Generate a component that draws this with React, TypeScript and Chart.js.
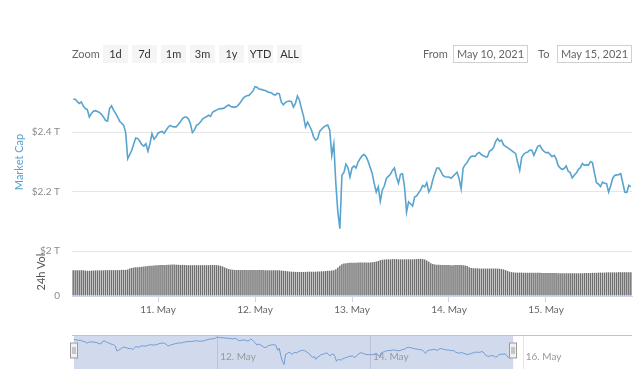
import React, { useEffect, useRef } from "react";
import { Chart, registerables } from "chart.js";
Chart.register(...registerables);

// ---- data (days counted from 10 May 2021 00:00, one sample every 30 min) ----
const FIRST_SAMPLE_DAY = 0.125;
const SAMPLE_STEP_DAY = 1 / 48;

const MARKET_CAP_T = [
  2.509, 2.509, 2.502, 2.495, 2.5, 2.487, 2.478, 2.475, 2.45, 2.461,
  2.469, 2.471, 2.468, 2.465, 2.459, 2.45, 2.439, 2.436, 2.478, 2.487,
  2.473, 2.462, 2.45, 2.436, 2.429, 2.422, 2.398, 2.311, 2.325, 2.339,
  2.361, 2.38, 2.378, 2.369, 2.358, 2.353, 2.361, 2.336, 2.361, 2.395,
  2.376, 2.384, 2.396, 2.4, 2.402, 2.396, 2.406, 2.416, 2.422, 2.418,
  2.417, 2.417, 2.425, 2.433, 2.444, 2.449, 2.45, 2.444, 2.428, 2.398,
  2.406, 2.422, 2.426, 2.433, 2.443, 2.448, 2.451, 2.456, 2.452, 2.466,
  2.47, 2.473, 2.477, 2.478, 2.478, 2.481, 2.487, 2.49, 2.485, 2.483,
  2.483, 2.485, 2.492, 2.501, 2.511, 2.518, 2.521, 2.522, 2.529, 2.537,
  2.551, 2.549, 2.543, 2.542, 2.54, 2.538, 2.535, 2.532, 2.531, 2.526,
  2.523, 2.529, 2.528, 2.5, 2.491, 2.498, 2.502, 2.503, 2.501, 2.483,
  2.495, 2.52, 2.506, 2.478, 2.453, 2.417, 2.433, 2.42, 2.406, 2.384,
  2.373, 2.378, 2.402, 2.41, 2.416, 2.421, 2.423, 2.406, 2.322, 2.361,
  2.228, 2.133, 2.078, 2.256, 2.265, 2.293, 2.281, 2.25, 2.28, 2.287,
  2.28, 2.3, 2.311, 2.321, 2.325, 2.318, 2.302, 2.282, 2.262, 2.228,
  2.2, 2.217, 2.169, 2.206, 2.22, 2.245, 2.252, 2.259, 2.272, 2.28,
  2.25, 2.229, 2.259, 2.261, 2.217, 2.133, 2.167, 2.161, 2.153, 2.183,
  2.187, 2.198, 2.207, 2.222, 2.217, 2.231, 2.2, 2.213, 2.241, 2.262,
  2.28, 2.28, 2.269, 2.255, 2.251, 2.25, 2.25, 2.246, 2.252, 2.259,
  2.266, 2.245, 2.211, 2.28, 2.291, 2.298, 2.311, 2.319, 2.32, 2.319,
  2.328, 2.332, 2.325, 2.321, 2.318, 2.317, 2.336, 2.34, 2.347, 2.367,
  2.378, 2.369, 2.373, 2.357, 2.352, 2.348, 2.343, 2.338, 2.333, 2.328,
  2.298, 2.272, 2.316, 2.326, 2.331, 2.333, 2.34, 2.339, 2.322, 2.338,
  2.353, 2.355, 2.343, 2.335, 2.331, 2.332, 2.326, 2.318, 2.322, 2.311,
  2.289, 2.28, 2.275, 2.278, 2.287, 2.269, 2.265, 2.247, 2.256, 2.263,
  2.275, 2.281, 2.295, 2.289, 2.291, 2.289, 2.301, 2.298, 2.263, 2.231,
  2.226, 2.218, 2.233, 2.229, 2.228, 2.2, 2.22, 2.246, 2.255, 2.257,
  2.258, 2.261, 2.231, 2.2, 2.198, 2.222, 2.217,
];

const VOLUME_24H_T = [
  1.15, 1.15, 1.14, 1.14, 1.15, 1.14, 1.13, 1.12, 1.12, 1.13,
  1.13, 1.14, 1.14, 1.14, 1.14, 1.14, 1.15, 1.15, 1.15, 1.15,
  1.15, 1.15, 1.15, 1.15, 1.16, 1.16, 1.16, 1.18, 1.22, 1.25,
  1.27, 1.28, 1.28, 1.29, 1.3, 1.31, 1.32, 1.33, 1.34, 1.35,
  1.36, 1.37, 1.37, 1.38, 1.38, 1.38, 1.38, 1.39, 1.39, 1.4,
  1.4, 1.39, 1.39, 1.38, 1.38, 1.38, 1.37, 1.37, 1.37, 1.37,
  1.37, 1.37, 1.37, 1.37, 1.37, 1.37, 1.37, 1.37, 1.38, 1.38,
  1.38, 1.37, 1.36, 1.34, 1.31, 1.27, 1.23, 1.2, 1.18, 1.17,
  1.16, 1.16, 1.16, 1.16, 1.16, 1.16, 1.16, 1.16, 1.16, 1.16,
  1.16, 1.16, 1.16, 1.16, 1.16, 1.15, 1.15, 1.15, 1.15, 1.15,
  1.15, 1.15, 1.14, 1.13, 1.12, 1.11, 1.1, 1.09, 1.08, 1.08,
  1.07, 1.07, 1.07, 1.07, 1.07, 1.07, 1.08, 1.08, 1.08, 1.08,
  1.08, 1.09, 1.09, 1.1, 1.1, 1.11, 1.12, 1.12, 1.13, 1.14,
  1.19, 1.27, 1.35, 1.41, 1.44, 1.46, 1.47, 1.48, 1.48, 1.48,
  1.48, 1.49, 1.49, 1.49, 1.49, 1.49, 1.49, 1.49, 1.5, 1.51,
  1.53, 1.56, 1.59, 1.61, 1.62, 1.63, 1.63, 1.63, 1.64, 1.64,
  1.64, 1.63, 1.63, 1.63, 1.63, 1.63, 1.63, 1.63, 1.63, 1.64,
  1.64, 1.65, 1.65, 1.64, 1.62, 1.58, 1.52, 1.46, 1.42, 1.4,
  1.39, 1.39, 1.38, 1.38, 1.38, 1.38, 1.38, 1.37, 1.37, 1.38,
  1.38, 1.38, 1.38, 1.37, 1.36, 1.33, 1.28, 1.24, 1.23, 1.23,
  1.23, 1.22, 1.22, 1.22, 1.22, 1.22, 1.22, 1.22, 1.22, 1.22,
  1.22, 1.21, 1.2, 1.18, 1.15, 1.11, 1.08, 1.06, 1.05, 1.04,
  1.04, 1.04, 1.04, 1.03, 1.03, 1.03, 1.03, 1.03, 1.03, 1.03,
  1.03, 1.03, 1.02, 1.02, 1.02, 1.02, 1.02, 1.02, 1.02, 1.02,
  1.01, 1.01, 1.01, 1.01, 1.01, 1.01, 1.01, 1.01, 1.01, 1.01,
  1.01, 1.01, 1.01, 1.02, 1.02, 1.02, 1.02, 1.03, 1.03, 1.03,
  1.04, 1.04, 1.04, 1.04, 1.05, 1.05, 1.05, 1.05, 1.05, 1.05,
  1.06, 1.06, 1.06, 1.06, 1.06, 1.06, 1.06,
];

const DAY_TICKS = [1, 2, 3, 4, 5];
const DAY_LABELS = ["11. May", "12. May", "13. May", "14. May", "15. May"];
const PRICE_TICKS = [2.2, 2.4];
const PRICE_TICK_LABELS = ["$2.2 T", "$2.4 T"];
const VOL_TICKS = [0, 2];
const VOL_TICK_LABELS = ["0", "$2 T"];
const NAV_TICKS = [2, 4, 6];
const NAV_LABELS = ["12. May", "14. May", "16. May"];
const ZOOM_BUTTONS = ["1d", "7d", "1m", "3m", "1y", "YTD", "ALL"];
const RANGE_FROM = "May 10, 2021";
const RANGE_TO = "May 15, 2021";

// ---- axis ranges / style ----
const X_MIN = 0.113;
const X_MAX = 5.887;
const NAV_X_MIN = 0.1;
const NAV_X_MAX = 7.43;
const FONT = "Lato, 'Open Sans', sans-serif";
const LINE_BLUE = "#58a4cf";

const dayOf = (i: number) => FIRST_SAMPLE_DAY + i * SAMPLE_STEP_DAY;

export default function App() {
  const priceRef = useRef<HTMLCanvasElement>(null);
  const volRef = useRef<HTMLCanvasElement>(null);
  const navRef = useRef<HTMLCanvasElement>(null);

  useEffect(() => {
    const pricePts = MARKET_CAP_T.map((v, i) => ({ x: dayOf(i), y: v }));
    const volPts = VOLUME_24H_T.map((v, i) => ({ x: dayOf(i), y: v }));
    const common = {
      responsive: false,
      animation: false as const,
      events: [] as any[],
      plugins: { legend: { display: false }, tooltip: { enabled: false } },
    };
    const yLabelStyle = {
      padding: 0,
      color: "#8a8a8a",
      font: { family: FONT, size: 10 },
    };
    const yGrid = {
      color: "#e6e6e6",
      drawTicks: true,
      tickLength: 12,
      tickColor: "rgba(0,0,0,0)",
    };

    const price = new Chart(priceRef.current!, {
      type: "line",
      data: {
        datasets: [
          {
            data: pricePts,
            borderColor: LINE_BLUE,
            borderWidth: 1.6,
            pointRadius: 0,
            tension: 0,
            fill: false,
          },
        ],
      },
      options: {
        ...common,
        layout: { padding: { top: 10, bottom: 9, left: 0, right: 8 } },
        scales: {
          x: { type: "linear", min: X_MIN, max: X_MAX, display: false },
          y: {
            type: "linear",
            min: 2.05,
            max: 2.62,
            afterBuildTicks: (s: any) => {
              s.ticks = PRICE_TICKS.map((value) => ({ value }));
            },
            afterFit: (s: any) => {
              s.width = 72;
            },
            grid: yGrid,
            border: { display: false },
            ticks: {
              ...yLabelStyle,
              callback: (_v: any, i: number) => PRICE_TICK_LABELS[i],
            },
          },
        },
      } as any,
    });

    const vol = new Chart(volRef.current!, {
      type: "bar",
      data: {
        datasets: [
          {
            data: volPts,
            backgroundColor: "#6e6e6e",
            barPercentage: 0.72,
            categoryPercentage: 1,
          },
        ],
      },
      options: {
        ...common,
        layout: { padding: { top: 11, bottom: 0, left: 0, right: 8 } },
        scales: {
          x: {
            type: "linear",
            min: X_MIN,
            max: X_MAX,
            offset: false,
            afterBuildTicks: (s: any) => {
              s.ticks = DAY_TICKS.map((value) => ({ value }));
            },
            afterFit: (s: any) => {
              s.height = 24;
            },
            grid: {
              offset: false,
              drawOnChartArea: false,
              drawTicks: true,
              tickLength: 6,
              color: "#ccd6eb",
            },
            border: { display: true, color: "#ccd6eb" },
            ticks: {
              autoSkip: false,
              maxRotation: 0,
              padding: 2,
              color: "#666",
              font: { family: FONT, size: 10 },
              callback: (_v: any, i: number) => DAY_LABELS[i],
            },
          },
          y: {
            type: "linear",
            min: 0,
            max: 2,
            afterBuildTicks: (s: any) => {
              s.ticks = VOL_TICKS.map((value) => ({ value }));
            },
            afterFit: (s: any) => {
              s.width = 72;
            },
            grid: yGrid,
            border: { display: false },
            ticks: {
              ...yLabelStyle,
              callback: (_v: any, i: number) => VOL_TICK_LABELS[i],
            },
          },
        },
      } as any,
    });

    const navPlugin = {
      id: "navigatorDecor",
      beforeDatasetsDraw(chart: any) {
        const { ctx, chartArea: a, scales } = chart;
        const x = scales.x;
        const x0 = x.getPixelForValue(dayOf(0));
        const x1 = x.getPixelForValue(dayOf(MARKET_CAP_T.length - 1));
        ctx.save();
        ctx.fillStyle = "rgba(102,133,194,0.3)";
        ctx.fillRect(x0, a.top, x1 - x0, a.bottom - a.top);
        ctx.strokeStyle = "rgba(0,0,0,0.1)";
        ctx.lineWidth = 1;
        NAV_TICKS.forEach((t) => {
          const px = Math.round(x.getPixelForValue(t)) + 0.5;
          ctx.beginPath();
          ctx.moveTo(px, a.top);
          ctx.lineTo(px, a.bottom);
          ctx.stroke();
        });
        ctx.fillStyle = "#999";
        ctx.font = `10px ${FONT}`;
        ctx.textBaseline = "middle";
        ctx.textAlign = "left";
        NAV_TICKS.forEach((t, i) => {
          ctx.fillText(NAV_LABELS[i], x.getPixelForValue(t) + 3, a.bottom - 12);
        });
        ctx.restore();
      },
      afterDatasetsDraw(chart: any) {
        const { ctx, chartArea: a, scales } = chart;
        const x = scales.x;
        const x0 = x.getPixelForValue(dayOf(0));
        const x1 = x.getPixelForValue(dayOf(MARKET_CAP_T.length - 1));
        ctx.save();
        ctx.strokeStyle = "#c4c4c8";
        ctx.lineWidth = 1;
        ctx.beginPath();
        ctx.moveTo(a.left, a.top + 0.5);
        ctx.lineTo(a.right, a.top + 0.5);
        ctx.stroke();
        [x0, x1].forEach((hx) => {
          const cx = Math.round(hx);
          const top = a.top + 8;
          ctx.fillStyle = "#f2f2f2";
          ctx.strokeStyle = "#999";
          ctx.fillRect(cx - 3.5, top, 7, 15);
          ctx.strokeRect(cx - 3.5, top, 7, 15);
          ctx.beginPath();
          ctx.moveTo(cx - 1, top + 4);
          ctx.lineTo(cx - 1, top + 11);
          ctx.moveTo(cx + 1, top + 4);
          ctx.lineTo(cx + 1, top + 11);
          ctx.stroke();
        });
        ctx.restore();
      },
    };

    const nav = new Chart(navRef.current!, {
      type: "line",
      data: {
        datasets: [
          {
            data: pricePts,
            borderColor: "#6f9ad3",
            borderWidth: 1,
            pointRadius: 0,
            tension: 0,
            fill: false,
          },
        ],
      },
      options: {
        ...common,
        layout: { padding: { top: 5, bottom: 6, left: 72, right: 8 } },
        scales: {
          x: { type: "linear", min: NAV_X_MIN, max: NAV_X_MAX, display: false },
          y: { type: "linear", min: 2.0, max: 2.59, display: false },
        },
      } as any,
      plugins: [navPlugin],
    });

    return () => {
      price.destroy();
      vol.destroy();
      nav.destroy();
    };
  }, []);

  const text: React.CSSProperties = {
    position: "absolute",
    top: 45,
    height: 18,
    lineHeight: "18px",
    fontSize: 11,
    whiteSpace: "nowrap",
  };

  return (
    <div
      style={{
        position: "absolute",
        left: 0,
        top: 0,
        width: 640,
        height: 380,
        background: "#fff",
        fontFamily: FONT,
        overflow: "hidden",
      }}
    >
      <canvas
        ref={priceRef}
        width={640}
        height={190}
        style={{ position: "absolute", left: 0, top: 56, display: "block" }}
      />
      <canvas
        ref={volRef}
        width={640}
        height={80}
        style={{ position: "absolute", left: 0, top: 240, display: "block" }}
      />
      <canvas
        ref={navRef}
        width={640}
        height={45}
        style={{ position: "absolute", left: 0, top: 330, display: "block" }}
      />

      <div style={{ ...text, left: 72, color: "#666" }}>Zoom</div>
      {ZOOM_BUTTONS.map((b, k) => (
        <div
          key={b}
          style={{
            ...text,
            left: 103 + k * 29,
            width: 25,
            textAlign: "center",
            background: "#f5f5f5",
            color: "#333",
          }}
        >
          {b}
        </div>
      ))}
      <div style={{ ...text, left: 423, color: "#666" }}>From</div>
      <div
        style={{
          ...text,
          left: 453,
          width: 75,
          boxSizing: "border-box",
          border: "1px solid #d0d0d0",
          lineHeight: "16px",
          textAlign: "center",
          color: "#666",
        }}
      >
        {RANGE_FROM}
      </div>
      <div style={{ ...text, left: 538, color: "#666" }}>To</div>
      <div
        style={{
          ...text,
          left: 557,
          width: 75,
          boxSizing: "border-box",
          border: "1px solid #d0d0d0",
          lineHeight: "16px",
          textAlign: "center",
          color: "#666",
        }}
      >
        {RANGE_TO}
      </div>

      <div
        style={{
          position: "absolute",
          left: 18,
          top: 162,
          transform: "translate(-50%, -50%) rotate(-90deg)",
          fontSize: 11,
          color: LINE_BLUE,
          whiteSpace: "nowrap",
        }}
      >
        Market Cap
      </div>
      <div
        style={{
          position: "absolute",
          left: 40,
          top: 272,
          transform: "translate(-50%, -50%) rotate(-90deg)",
          fontSize: 11,
          color: "#555",
          whiteSpace: "nowrap",
        }}
      >
        24h Vol
      </div>
    </div>
  );
}
